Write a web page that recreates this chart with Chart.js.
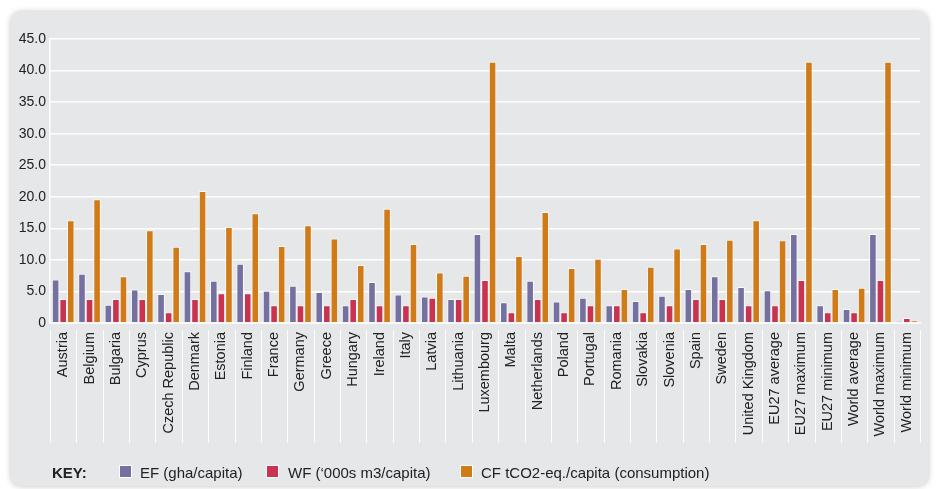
<!DOCTYPE html>
<html>
<head>
<meta charset="utf-8">
<script src="https://cdn.jsdelivr.net/npm/chart.js@4"></script>
<style>
  html, body { margin: 0; padding: 0; background: #fff; width: 938px; height: 489px; overflow: hidden; }
  #panel {
    position: absolute; left: 11px; top: 12px; width: 917px; height: 474px;
    background: #e6e7e8; border-radius: 10px;
    box-shadow: 0 0 6px rgba(0,0,0,0.25);
  }
  #wrap { position: absolute; left: 0; top: 0; width: 938px; height: 489px; }
  #key {
    position: absolute; left: 0; top: 462px; width: 938px; height: 22px;
    font-family: "Liberation Sans", Arial, sans-serif; font-size: 15px; color: #222;
  }
  #key span { position: absolute; top: 2px; white-space: nowrap; }
  #key .sw { position: absolute; top: 3px; width: 13px; height: 13px; border: 1px solid #fff; box-sizing: border-box; }
</style>
</head>
<body>
<div id="panel"></div>
<div id="wrap"><canvas id="c" width="938" height="489"></canvas></div>
<div id="key">
  <span style="left:52px;font-weight:bold;">KEY:</span>
  <div class="sw" style="left:119px;background:#7470a0;"></div>
  <span style="left:140px;">EF (gha/capita)</span>
  <div class="sw" style="left:266px;background:#c9334f;"></div>
  <span style="left:288px;">WF (‘000s m3/capita)</span>
  <div class="sw" style="left:460px;background:#d07b17;"></div>
  <span style="left:481px;">CF tCO2-eq./capita (consumption)</span>
</div>
<script>
// categories and series values
const categories = ['Austria', 'Belgium', 'Bulgaria', 'Cyprus', 'Czech Republic', 'Denmark', 'Estonia', 'Finland',
    'France', 'Germany', 'Greece', 'Hungary', 'Ireland', 'Italy', 'Latvia', 'Lithuania', 'Luxembourg', 'Malta',
    'Netherlands', 'Poland', 'Portugal', 'Romania', 'Slovakia', 'Slovenia', 'Spain', 'Sweden', 'United Kingdom',
    'EU27 average', 'EU27 maximum', 'EU27 minimum', 'World average', 'World maximum', 'World minimum'];
const efValues = [6.9, 7.8, 2.9, 5.3, 4.6, 8.2, 6.7, 9.4, 5.1, 5.9, 4.9, 2.8, 6.5, 4.5, 4.2, 3.8, 14.1, 3.3,
    6.7, 3.4, 4.0, 2.8, 3.5, 4.3, 5.4, 7.4, 5.7, 5.2, 14.1, 2.8, 2.2, 14.1, 0.3];
const wfValues = [3.8, 3.8, 3.8, 3.8, 1.7, 3.8, 4.7, 4.7, 2.8, 2.8, 2.8, 3.8, 2.8, 2.8, 4.0, 3.8, 6.8, 1.7,
    3.8, 1.7, 2.8, 2.8, 1.7, 2.8, 3.8, 3.8, 2.8, 2.8, 6.8, 1.7, 1.7, 6.8, 0.8];
const cfValues = [16.3, 19.6, 7.4, 14.7, 12.1, 20.9, 15.2, 17.4, 12.2, 15.5, 13.4, 9.2, 18.1, 12.5, 8.0, 7.5, 41.4, 10.6,
    17.6, 8.7, 10.2, 5.4, 8.9, 11.8, 12.5, 13.2, 16.3, 13.1, 41.4, 5.4, 5.6, 41.4, 0.4];
const yTicks = { min: 0, max: 45, step: 5 };

const FONT = '"Liberation Sans", Arial, sans-serif';

// light separators between category labels under the axis
const separators = {
    id: 'separators',
    afterDraw(chart) {
        const x = chart.scales.x;
        const ctx = chart.ctx;
        const n = categories.length;
        const w = (x.right - x.left) / n;
        ctx.save();
        ctx.strokeStyle = 'rgba(255,255,255,0.9)';
        ctx.lineWidth = 1;
        for (let i = 0; i <= n; i++) {
            const px = Math.round(x.left + i * w) + 0.5;
            ctx.beginPath();
            ctx.moveTo(px, x.top + 7);
            ctx.lineTo(px, x.top + 120);
            ctx.stroke();
        }
        ctx.restore();
    }
};

const common = { borderColor: 'rgba(255,255,255,0.75)', borderWidth: 1, categoryPercentage: 0.86, barPercentage: 1 };

new Chart(document.getElementById('c'), {
    type: 'bar',
    data: {
        labels: categories,
        datasets: [
            { label: 'EF (gha/capita)', data: efValues, backgroundColor: '#7470a0', ...common },
            { label: 'WF (‘000s m3/capita)', data: wfValues, backgroundColor: '#c9334f', ...common },
            { label: 'CF tCO2-eq./capita (consumption)', data: cfValues, backgroundColor: '#d07b17', ...common }
        ]
    },
    options: {
        responsive: false,
        animation: false,
        layout: { padding: { left: 0, right: 18, top: 39, bottom: 0 } },
        plugins: { legend: { display: false }, tooltip: { enabled: false } },
        scales: {
            x: {
                grid: { display: false, drawTicks: false },
                border: { display: true, color: '#ffffff', width: 1.5 },
                ticks: { color: '#222', font: { family: FONT, size: 14.5 }, minRotation: 90, maxRotation: 90, padding: 9, autoSkip: false },
                afterFit: s => { s.height = 166; }
            },
            y: {
                min: yTicks.min, max: yTicks.max,
                grid: { color: '#ffffff', lineWidth: 1.5, drawTicks: false },
                border: { display: true, color: '#ffffff', width: 1.5 },
                ticks: {
                    stepSize: yTicks.step, color: '#222', padding: 4,
                    font: { family: FONT, size: 14 },
                    callback: v => v === 0 ? '0' : v.toFixed(1)
                },
                afterFit: s => { s.width = 50; }
            }
        }
    },
    plugins: [separators]
});
</script>
</body>
</html>
